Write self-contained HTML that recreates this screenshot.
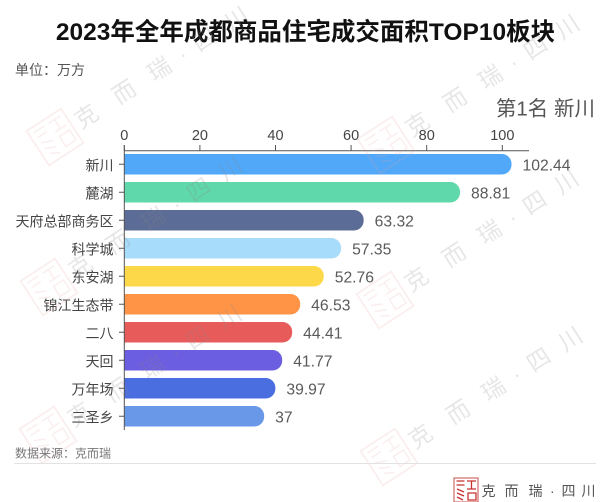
<!DOCTYPE html>
<html lang="zh">
<head>
<meta charset="utf-8">
<title>2023年全年成都商品住宅成交面积TOP10板块</title>
<style>
html,body{margin:0;padding:0;background:#fff;width:612px;height:502px;overflow:hidden}
svg{display:block;font-family:"Liberation Sans","Noto Sans CJK SC",sans-serif}
</style>
</head>
<body>
<svg id="chart" width="612" height="502" viewBox="0 0 612 502" xmlns="http://www.w3.org/2000/svg">
  <defs>
    <g id="stamp-mark">
      <g fill="none" stroke="#e5a0a0" stroke-width="1.500">
        <rect x="-20.500" y="-20.500" width="41" height="41" fill="#fff" fill-opacity="0" stroke-width="1.800"/>
        <path d="M-16 -15h13M-15 -9h11M-15 -3l11 5M-15 4l11 5M-13 11l9 5"/>
        <path d="M2 -15h14M9 -15v11M3 -4h13M4 2h12v12h-12z"/>
      </g>
    </g>
    <g id="watermark-unit" opacity="0.2">
      <use href="#stamp-mark" opacity="0.85"/>
      <text y="8" font-size="23" fill="#888"><tspan x="26">克</tspan><tspan x="71">而</tspan><tspan x="113">瑞</tspan><tspan x="148">·</tspan><tspan x="167">四</tspan><tspan x="205">川</tspan></text>
    </g>
  </defs>

  <text x="305.500" y="40" text-anchor="middle" font-size="24.500" font-weight="700" fill="#111">2023年全年成都商品住宅成交面积TOP10板块</text>
  <text x="15" y="75" font-size="14" fill="#555">单位：万方</text>
  <text x="595" y="115.500" text-anchor="end" font-size="20.500" fill="#555">第1名 新川</text>

  <g id="plot"></g>

  <g>
    <use href="#watermark-unit" transform="translate(55 137) rotate(-33)"/>
    <use href="#watermark-unit" transform="translate(386 145) rotate(-33)"/>
    <use href="#watermark-unit" transform="translate(49 287) rotate(-33)"/>
    <use href="#watermark-unit" transform="translate(385 300) rotate(-33)"/>
    <use href="#watermark-unit" transform="translate(48 435) rotate(-33)"/>
    <use href="#watermark-unit" transform="translate(389 457) rotate(-33)"/>
  </g>

  <text x="15" y="457.500" font-size="12" fill="#777">数据来源：克而瑞</text>
  <line x1="14" y1="463.500" x2="596" y2="463.500" stroke="#e2e2e2" stroke-width="1"/>

  <g>
    <rect x="454" y="478" width="24" height="24" fill="#fff" stroke="#d06a68" stroke-width="1.200"/>
    <path d="M456.500 481h8M456.500 485h8M457 489l7 3M457 493l7 3M457 497l6 3M467 481h9M471.500 481v8M467 489h9M468 493h8v7h-8z" fill="none" stroke="#c8322f" stroke-width="1.300"/>
    <text y="496" font-size="14" fill="#555"><tspan x="481.500">克</tspan><tspan x="504.500">而</tspan><tspan x="528.500">瑞</tspan><tspan x="550">·</tspan><tspan x="561.500">四</tspan><tspan x="581.500">川</tspan></text>
  </g>
</svg>

<script>
const categories = ["新川", "麓湖", "天府总部商务区", "科学城", "东安湖", "锦江生态带", "二八", "天回", "万年场", "三圣乡"];
const seriesValues = [102.44, 88.81, 63.32, 57.35, 52.76, 46.53, 44.41, 41.77, 39.97, 37];
const tickValues = [0, 20, 40, 60, 80, 100];
const barColors = ["#52a8f8", "#5fd8ab", "#5b6c96", "#a7dcfb", "#fdd848", "#ff9447", "#e85b5b", "#6c5ee0", "#4a6ee0", "#6a98e8"];

const SVG_NS = "http://www.w3.org/2000/svg";
const plot = document.getElementById("plot");
const x0 = 124.3, pxPerUnit = 3.78, axisY = 150.7, axisRight = 529, axisBottom = 430;
const bandTop = 154, bandStep = 28, barHeight = 20.5;
function xScale(v) { return x0 + v * pxPerUnit; }
function yBand(i) { return bandTop + i * bandStep; }
function make(tag, attrs, text) {
  const el = document.createElementNS(SVG_NS, tag);
  for (const k in attrs) el.setAttribute(k, attrs[k]);
  if (text !== undefined) el.textContent = text;
  plot.appendChild(el);
  return el;
}

seriesValues.forEach(function (v, i) {
  const y = yBand(i), r = barHeight / 2 - 0.5, xe = xScale(v);
  const bar = make("path", {
    d: "M" + x0 + " " + y + "H" + (xe - r) + "A" + r + " " + r + " 0 0 1 " + xe + " " + (y + r) +
       "V" + (y + barHeight - r) + "A" + r + " " + r + " 0 0 1 " + (xe - r) + " " + (y + barHeight) + "H" + x0 + "Z",
    fill: barColors[i]
  });
  
  

  const valueLabel = make("text", {
    x: xe + 11, y: y + barHeight / 2 + 6, "font-size": 15.7, fill: "#5a5a5a"
  }, String(v));
  
  

  const catLabel = make("text", {
    x: 113.5, y: y + barHeight / 2 + 6, "text-anchor": "end", "font-size": 14, fill: "#444"
  }, categories[i]);
  
  

  const catTick = make("line", {
    x1: 119, x2: x0, y1: y + barHeight / 2, y2: y + barHeight / 2, stroke: "#555", "stroke-width": 1
  });
  
  
});

tickValues.forEach(function (t) {
  const x = xScale(t);
  const tick = make("line", { x1: x, x2: x, y1: 145, y2: axisY, stroke: "#555", "stroke-width": 1 });
  
  

  const label = make("text", {
    x: x, y: 140, "text-anchor": "middle", "font-size": 14.5, fill: "#444"
  }, String(t));
  
  
});

const xAxis = make("line", { x1: x0, x2: axisRight, y1: axisY, y2: axisY, stroke: "#555", "stroke-width": 1 });



const yAxis = make("line", { x1: x0, x2: x0, y1: 145, y2: axisBottom, stroke: "#555", "stroke-width": 1 });


</script>
</body>
</html>
